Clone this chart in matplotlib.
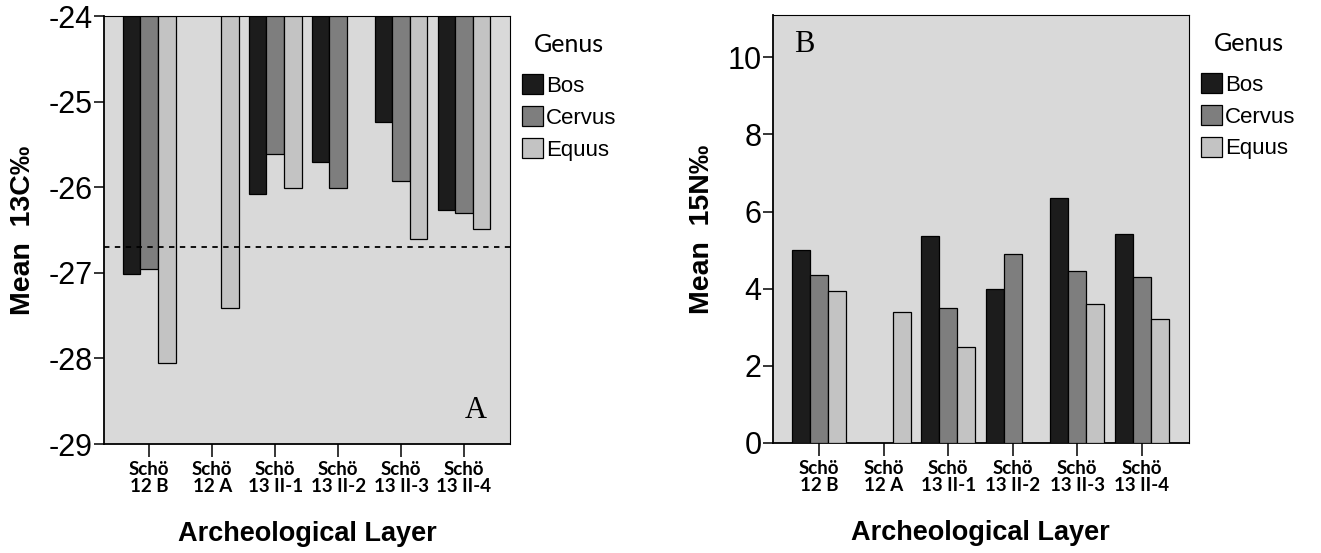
import numpy as np
import matplotlib
matplotlib.use("Agg")
import matplotlib.pyplot as plt
from matplotlib.patches import Patch

# layers on the x axis
layers = ["Schö\n12 B", "Schö\n12 A", "Schö\n13 II-1", "Schö\n13 II-2", "Schö\n13 II-3", "Schö\n13 II-4"]
genus = ["Bos", "Cervus", "Equus"]

# mean d13C per genus (nan = no sample)
c13_bos = [-27.01, np.nan, -26.08, -25.71, -25.24, -26.27]
c13_cervus = [-26.95, np.nan, -25.61, -26.01, -25.93, -26.30]
c13_equus = [-28.05, -27.41, -26.01, np.nan, -26.60, -26.49]
c13_line = -26.7

# mean d15N per genus
n15_bos = [5.00, np.nan, 5.37, 3.99, 6.35, 5.43]
n15_cervus = [4.36, np.nan, 3.49, 4.91, 4.45, 4.31]
n15_equus = [3.94, 3.39, 2.48, np.nan, 3.60, 3.21]

colors = ["#1c1c1c", "#7e7e7e", "#c3c3c3"]
panel_bg = "#d9d9d9"
width = 0.28

plt.rcParams["font.family"] = ["Liberation Sans", "DejaVu Sans"]
plt.rcParams["axes.unicode_minus"] = False

fig = plt.figure(figsize=(13.21, 5.53), dpi=100)
axA = fig.add_axes([0.0787, 0.197, 0.3073, 0.774])
axB = fig.add_axes([0.585, 0.199, 0.315, 0.774])

x = np.arange(len(layers))


def draw_bars(ax, series, base):
    for i, vals in enumerate(series):
        vals = np.array(vals, dtype=float)
        ok = ~np.isnan(vals)
        ax.bar(x[ok] + (i - 1) * width, vals[ok] - base, bottom=base, width=width,
               color=colors[i], edgecolor="black", linewidth=0.9, zorder=3)


def style_axis(ax, ylabel):
    ax.set_facecolor(panel_bg)
    ax.set_xlim(-0.72, len(layers) - 1 + 0.73)
    ax.set_xticks(x)
    ax.set_xticklabels(layers, fontfamily=["Lato", "DejaVu Sans"], fontweight="bold",
                       fontsize=13.5, linespacing=1.0)
    ax.tick_params(axis="x", length=9, width=1.1, pad=3)
    ax.tick_params(axis="y", length=7, width=1.1, pad=1, labelsize=22)
    for s in ax.spines.values():
        s.set_linewidth(0.8)
    ax.spines["left"].set_linewidth(1.3)
    ax.spines["bottom"].set_linewidth(1.3)
    ax.set_ylabel(ylabel, fontsize=20.5, fontweight="bold", labelpad=9)
    ax.set_xlabel("Archeological Layer", fontsize=19.5, fontweight="bold", labelpad=19)
    handles = [Patch(facecolor=c, edgecolor="black", linewidth=0.9) for c in colors]
    leg = ax.legend(handles, genus, title="Genus", loc="upper left",
                    bbox_to_anchor=(1.03, 0.96), frameon=False, fontsize=16,
                    title_fontsize=18, handlelength=0.95, handleheight=1.0,
                    handletextpad=0.12, labelspacing=0.42, borderpad=0, borderaxespad=0)
    leg.get_title().set_fontfamily(["Lato", "DejaVu Sans"])
    leg._legend_box.sep = 13


# panel A, d13C
draw_bars(axA, [c13_bos, c13_cervus, c13_equus], -24)
axA.set_ylim(-29, -24)
axA.set_yticks([-29, -28, -27, -26, -25, -24])
axA.axhline(c13_line, color="black", linestyle=(0, (3, 3)), linewidth=1.3, zorder=4)
style_axis(axA, "Mean  13C‰")
axA.text(0.943, 0.045, "A", transform=axA.transAxes, fontsize=22,
         fontfamily="Liberation Serif", ha="right", va="bottom")

# panel B, d15N
draw_bars(axB, [n15_bos, n15_cervus, n15_equus], 0)
axB.set_ylim(0, 11.1)
axB.set_yticks([0, 2, 4, 6, 8, 10])
style_axis(axB, "Mean  15N‰")
axB.text(0.052, 0.965, "B", transform=axB.transAxes, fontsize=22,
         fontfamily="Liberation Serif", ha="left", va="top")

fig.savefig("out.png", dpi=100)
